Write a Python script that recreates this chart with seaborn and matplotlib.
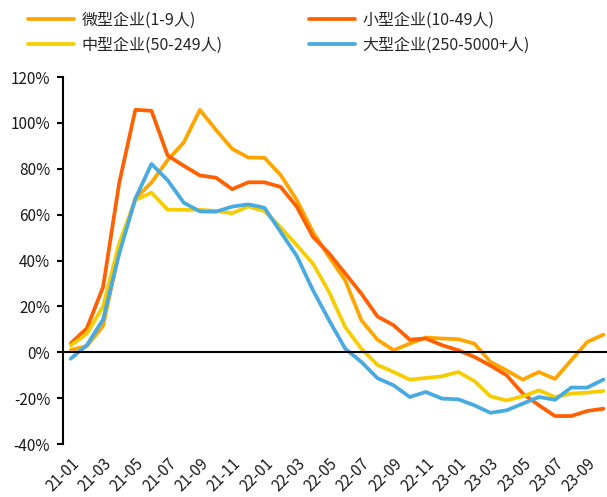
import numpy as np
import pandas as pd
import matplotlib
matplotlib.use("Agg")
import matplotlib.pyplot as plt
import seaborn as sns

# Monthly year-on-year growth (%) by enterprise size, 2021-01 .. 2023-10
months = [f"{y:02d}-{m:02d}" for y in (21, 22, 23) for m in range(1, 13)][:34]

micro = [1.0, 2.7, 11.5, 44.0, 67.0, 74.0, 83.8, 91.5, 105.7, 96.9, 88.7, 84.9,
         84.8, 77.3, 66.4, 52.5, 41.6, 31.4, 14.0, 5.5, 0.9, 3.8, 6.4, 6.0,
         5.7, 3.8, -4.2, -7.9, -11.9, -8.6, -11.6, -3.5, 4.5, 7.7]
small = [3.9, 10.5, 28.4, 73.8, 105.7, 105.3, 85.8, 81.3, 77.1, 76.1, 71.1, 74.1,
         74.1, 72.1, 63.5, 50.4, 43.1, 34.4, 25.6, 15.6, 11.8, 5.5, 6.0, 3.1,
         0.9, -2.0, -5.8, -10.0, -18.0, -23.1, -27.8, -27.8, -25.6, -24.6]
medium = [3.0, 8.1, 20.0, 47.5, 66.4, 69.6, 62.2, 62.1, 62.1, 61.6, 60.6, 63.6,
          61.5, 54.5, 46.7, 38.7, 26.3, 11.0, 1.6, -5.5, -8.6, -11.9, -11.2, -10.5,
          -8.6, -12.5, -19.2, -21.0, -19.2, -16.6, -19.5, -18.0, -17.6, -16.9]
large = [-2.8, 3.1, 14.3, 43.0, 67.0, 82.1, 75.0, 65.2, 61.4, 61.3, 63.5, 64.5,
         63.0, 52.5, 42.0, 27.1, 14.0, 1.6, -4.2, -11.3, -14.4, -19.5, -17.3, -20.2,
         -20.5, -23.1, -26.4, -25.3, -22.4, -19.5, -20.7, -15.4, -15.4, -11.9]

names = ["微型企业(1-9人)", "小型企业(10-49人)", "中型企业(50-249人)", "大型企业(250-5000+人)"]
colors = ["#FFA500", "#FF6100", "#F5CD00", "#47AAE0"]

df = pd.concat(
    [pd.DataFrame({"idx": np.arange(len(months)), "value": vals, "series": name})
     for name, vals in zip(names, [micro, small, medium, large])],
    ignore_index=True,
)

sns.set_theme(style="white")
plt.rcParams["font.family"] = ["Noto Sans CJK SC", "DejaVu Sans"]
plt.rcParams["axes.unicode_minus"] = False

fig = plt.figure(figsize=(6.07, 4.97), dpi=100)
ax = fig.add_axes([0.1033, 0.1066, 0.9041, 0.7384])

sns.lineplot(data=df, x="idx", y="value", hue="series", hue_order=names,
             palette=dict(zip(names, colors)), linewidth=2.7, legend=False,
             sort=False, ax=ax)

ax.set_xlim(-0.5, len(months) - 0.5)
ax.set_ylim(-40, 120)
ax.set_yticks(np.arange(-40, 121, 20))
ax.set_yticklabels([f"{v}%" for v in range(-40, 121, 20)], fontsize=11, color="#1a1a1a")
ax.set_xlabel("")
ax.set_ylabel("")

for side in ("top", "right"):
    ax.spines[side].set_visible(False)
ax.spines["left"].set_color("black")
ax.spines["left"].set_linewidth(1.5)
ax.spines["bottom"].set_position(("data", 0))
ax.spines["bottom"].set_color("black")
ax.spines["bottom"].set_linewidth(1.5)

# Tick marks sit between months on the zero line; labels are placed at the bottom
ax.set_xticks(np.arange(1.5, len(months), 2))
ax.set_xticklabels([])
ax.tick_params(axis="x", direction="out", length=5, width=1.5, color="black")
ax.tick_params(axis="y", direction="out", length=4, width=1.5, color="black", pad=5, left=True)

sec = ax.secondary_xaxis("bottom")
sec.spines["bottom"].set_visible(False)
sec.set_xticks(np.arange(0, len(months), 2))
sec.set_xticklabels(months[::2], rotation=45, ha="right", rotation_mode="anchor",
                    fontsize=11, color="#1a1a1a")
sec.tick_params(axis="x", length=0, pad=8)

handles = ax.get_lines()[:4]
order = [0, 2, 1, 3]
fig.legend([handles[i] for i in order], [names[i] for i in order], ncol=2,
           loc="upper left", bbox_to_anchor=(0.022, 1.006), frameon=False,
           fontsize=11.5, handlelength=2.9, handletextpad=0.45,
           columnspacing=5.4, labelspacing=0.5)

fig.savefig("out.png", dpi=100)
